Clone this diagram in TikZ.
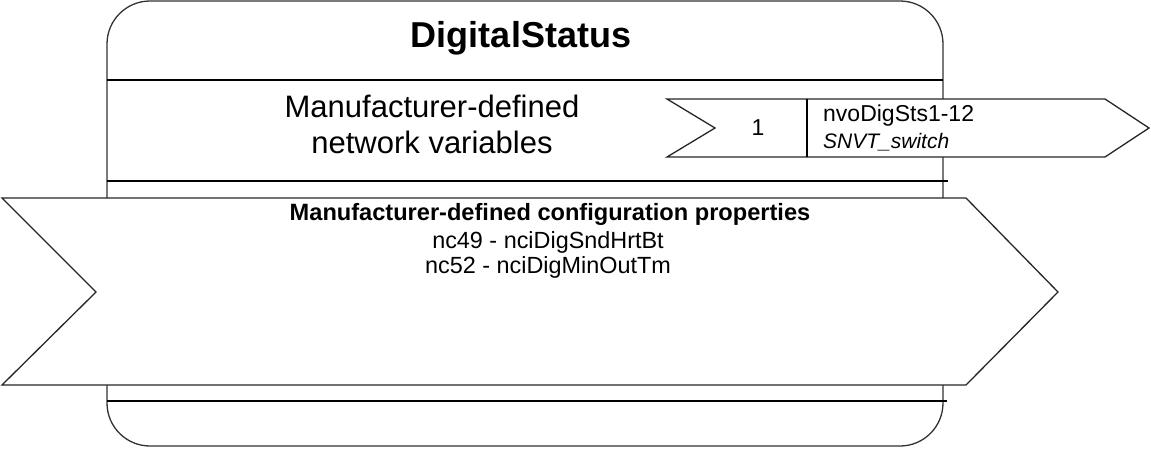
\documentclass[tikz,border=0pt]{standalone}
\usepackage{fontspec}
\setmainfont{Liberation Sans}
\begin{document}
\begin{tikzpicture}[x=1pt,y=-1pt,
  outline/.style={draw=black!80,line width=1.3pt},
  sepline/.style={draw=black,line width=2.6pt},
  arrowshape/.style={draw=black!85,line width=1.3pt,fill=white},
  txt/.style={inner sep=0pt,anchor=base,text=black}]
\useasboundingbox (0,0) rectangle (1151,448);
% main block
\draw[outline,rounded corners=43pt] (107,1) rectangle (943,446);
\draw[sepline] (107,80) -- (943,80);
\draw[sepline] (107,181) -- (948,181);
\draw[sepline] (107,401) -- (947,401);
% title
\node[txt,font=\fontsize{36}{40}\selectfont\bfseries] (title) at (521,47) {DigitalStatus};
\node[txt,font=\fontsize{31}{36}\selectfont] (nvh1) at (432,117) {Manufacturer-defined};
\node[txt,font=\fontsize{31}{36}\selectfont] (nvh2) at (432,153) {network variables};
% network variable arrow
\path[arrowshape] (667,99) -- (1105,99) -- (1149,128) -- (1105,157) -- (667,157) -- (715,128) -- cycle;
\draw[black,line width=1.6pt] (807,99) -- (807,157);
\node[font=\fontsize{23}{27}\selectfont,inner sep=0pt] (nvnum) at (758,128) {1};
\node[txt,anchor=base west,font=\fontsize{23}{27}\selectfont] (nvname) at (823,121) {nvoDigSts1-12};
\node[txt,anchor=base west,font=\fontsize{21}{25}\selectfont\itshape] (nvtype) at (823,148) {SNVT\_switch};
% configuration properties arrow
\path[arrowshape] (2,198) -- (966,198) -- (1058,292) -- (966,385) -- (2,385) -- (96,292) -- cycle;
\node[txt,font=\fontsize{23.6}{26}\selectfont\bfseries] (cph) at (550,220) {Manufacturer-defined configuration properties};
\node[txt,font=\fontsize{23.4}{26}\selectfont] (cp1) at (548,248) {nc49 - nciDigSndHrtBt};
\node[txt,font=\fontsize{23.4}{26}\selectfont] (cp2) at (548,273) {nc52 - nciDigMinOutTm};
\end{tikzpicture}
\end{document}
